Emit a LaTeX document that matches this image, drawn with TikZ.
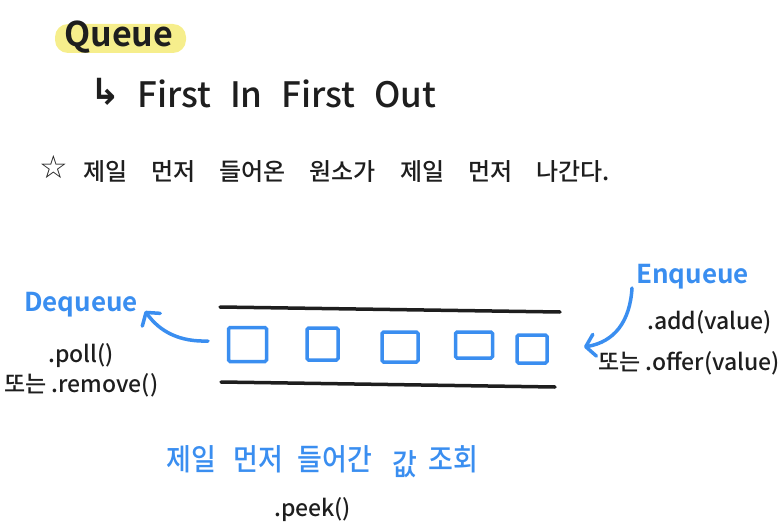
\documentclass[tikz,border=0pt]{standalone}
\usepackage{fontspec}
\setmainfont{Noto Sans CJK KR}[UprightFont=* Medium, BoldFont=* Bold]
\newfontfamily\krwide{Noto Sans CJK KR}[UprightFont=* Medium, FakeStretch=0.9]
\newfontfamily\sym{DejaVu Sans}
\usetikzlibrary{arrows.meta}
\definecolor{hb}{RGB}{58,142,240}
\definecolor{ink}{RGB}{30,30,30}
\definecolor{hl}{RGB}{246,238,140}
\newcommand\wgap[1]{\hspace*{#1}}
\begin{document}
\begin{tikzpicture}[x=1pt,y=-1pt,
 txt/.style={inner sep=0pt, anchor=west, text=ink},
 btxt/.style={inner sep=0pt, anchor=west, text=hb},
 box/.style={draw=hb, line width=3.5pt, rounded corners=1.5pt, inner sep=0pt},
 rail/.style={draw=ink, line width=3.5pt, line cap=round},
 flow/.style={draw=hb, line width=3.5pt, line cap=round, -{Straight Barb[length=9pt,width=22pt,line width=3.5pt,round]}}]
\useasboundingbox (0,0) rectangle (781,532);
% title
\fill[hl, rounded corners=13pt] (55,24) rectangle (186,53);
\node[txt, font=\fontsize{34}{34}\selectfont\bfseries] (title) at (64,37) {Queue};
\node[txt, font=\sym\fontsize{36}{36}\selectfont\bfseries] (hook) at (90,92) {↳};
\node[txt, font=\fontsize{35}{35}\selectfont] (fifo) at (137,94) {First\wgap{19pt}In\wgap{19pt}First\wgap{19pt}Out};
% description
\node[txt, font=\sym\fontsize{32}{32}\selectfont\bfseries] (star) at (39,167) {☆};
\node[txt, font=\fontsize{24}{24}\selectfont] (desc) at (83,172) {제일\wgap{24pt}먼저\wgap{24pt}들어온\wgap{24pt}원소가\wgap{24pt}제일\wgap{24pt}먼저\wgap{24pt}나간다.};
% rails
\coordinate (t1) at (220,307);
\coordinate (t2) at (560,312);
\coordinate (b1) at (221,382);
\coordinate (b2) at (555,387);
\draw[rail] (t1) -- (t2);
\draw[rail] (b1) -- (b2);
% elements
\node[box, minimum width=38pt, minimum height=34pt] (q1) at (247.5,344.5) {};
\node[box, minimum width=31pt, minimum height=32pt] (q2) at (322.5,344) {};
\node[box, minimum width=36pt, minimum height=30pt] (q3) at (400,347) {};
\node[box, minimum width=37pt, minimum height=26pt] (q4) at (474,345) {};
\node[box, minimum width=30pt, minimum height=28pt] (q5) at (532,349) {};
% dequeue
\node[btxt, font=\fontsize{26}{26}\selectfont\bfseries] (deq) at (24,305) {Dequeue};
\coordinate (dtail) at (208,341);
\coordinate (dhead) at (145,311);
\draw[flow] (dtail) .. controls (180,342) and (160,332) .. (dhead);
\node[txt, font=\fontsize{23}{23}\selectfont] (poll) at (48,356) {.poll()};
\node[txt, font=\fontsize{23}{23}\selectfont] (remove) at (4,385) {또는 .remove()};
% enqueue
\node[btxt, font=\fontsize{26}{26}\selectfont\bfseries] (enq) at (636,277) {Enqueue};
\coordinate (etail) at (632,288);
\coordinate (ehead) at (584,347);
\draw[flow] (etail) .. controls (630,322) and (614,342) .. (ehead);
\node[txt, font=\fontsize{23}{23}\selectfont] (add) at (647,322) {.add(value)};
\node[txt, font=\fontsize{23}{23}\selectfont] (offer) at (598,363) {또는 .offer(value)};
% peek
\node[btxt, font=\krwide\fontsize{30}{30}\selectfont] (peekk) at (166,462) {제일\wgap{18pt}먼저\wgap{14pt}들어간\wgap{20pt}\raisebox{-5pt}{값}\wgap{12pt}조회};
\node[txt, font=\fontsize{23}{23}\selectfont] (peek) at (274,510) {.peek()};
\end{tikzpicture}
\end{document}
